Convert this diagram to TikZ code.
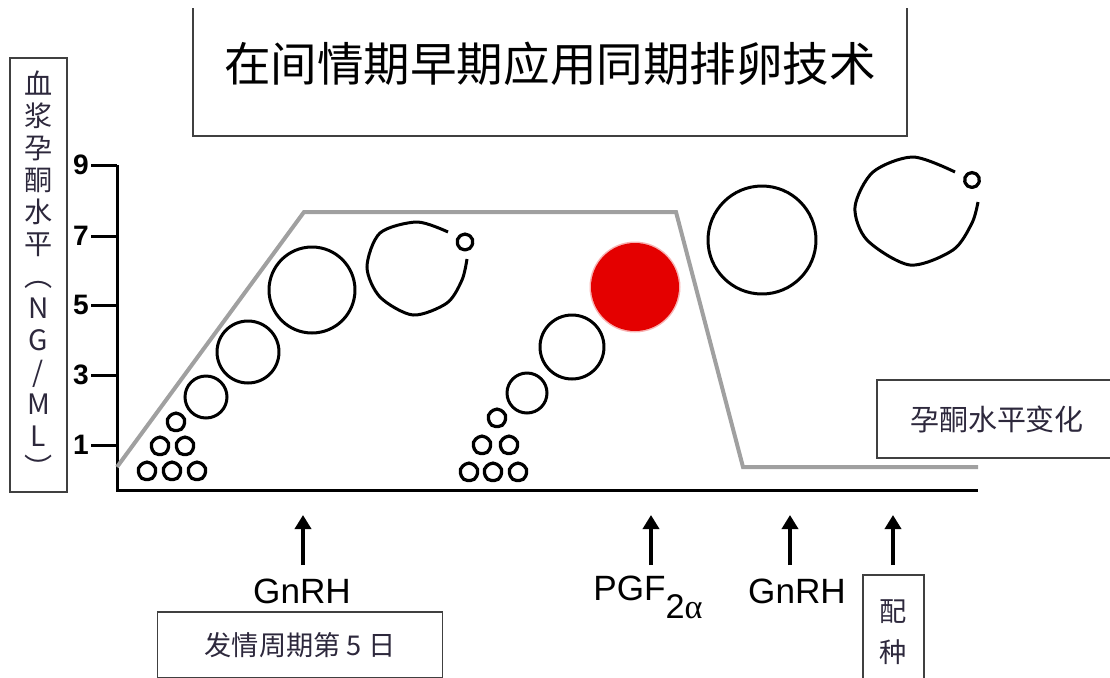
\documentclass[tikz,border=0pt]{standalone}
\usepackage{fontspec}
\usepackage{amsmath}
\setmainfont{Liberation Sans}
\newfontfamily\cjk{Noto Sans CJK SC}
\newfontfamily\grk{Liberation Serif}
\usetikzlibrary{arrows.meta,shapes.geometric}

\definecolor{lvl}{RGB}{160,160,160}
\definecolor{ink}{RGB}{45,40,60}
\definecolor{cl}{RGB}{228,0,0}

\tikzset{
  box/.style={draw=black!75,line width=0.7pt,inner sep=0pt},
  foll/.style={draw,circle,line width=0.06cm,inner sep=0pt},
  egg/.style={draw,regular polygon,regular polygon sides=5,rounded corners=2.6pt,line width=0.065cm,inner sep=0pt,minimum size=0.42cm},
  pulse/.style={-{Triangle[length=0.28cm,width=0.32cm]},line width=0.075cm},
  hormone/.style={anchor=base,inner sep=0pt,font=\fontsize{20}{24}\selectfont},
}

\begin{document}
\begin{tikzpicture}[x=0.02cm,y=-0.02cm]
        \useasboundingbox (0,0) rectangle (1110,677);
        \clip (0,0) rectangle (1110,677);

        \begin{scope}
            \clip (0,8) rectangle (1110,677);
            \node[box,minimum width=14.28cm,minimum height=2.88cm,font=\cjk\fontsize{26.5}{30}\selectfont] (title) at (550,64) {在间情期早期应用同期排卵技术};
        \end{scope}

        \node[box,minimum width=1.14cm,minimum height=8.68cm,align=center,text=ink,font=\cjk\fontsize{16}{18.2}\selectfont] (ylab) at (38.5,275) {血\\浆\\孕\\酮\\水\\平\\︵\\N\\G\\/\\M\\L\\︶};

        % axes and ticks
        \draw[line width=0.06cm](117,165)--(117,490)--(978,490);
        \foreach \v/\y in {9/165,7/236,5/305,3/375,1/445}{
            \draw[line width=0.06cm](91,\y)--(117,\y);
            \node[anchor=east,inner sep=0pt,font=\bfseries\fontsize{16}{18}\selectfont] (t\v) at (89,\y) {\v};
        }

        % progesterone level
        \draw[lvl,line width=0.08cm](117,467)--(304,212)--(676,212)--(743,467)--(978,467);

        % first wave
        \foreach \x/\y [count=\i] in {147/471,172/471,197/471,160/446,185/446,176/422}
            \node[egg] (p\i) at (\x,\y) {};
        \node[foll,minimum size=0.84cm] (a1) at (206,397) {};
        \node[foll,minimum size=1.24cm] (a2) at (248,352) {};
        \node[foll,minimum size=1.72cm] (a3) at (312,290) {};
        \draw[line width=0.06cm]plot[smooth] coordinates {(448,232) (417,222) (380,233) (367,267) (380,297) (413,315) (447,303) (462,280) (467,259)};
        \node[egg,minimum size=0.38cm] (o1) at (465,242) {};

        % second wave
        \foreach \x/\y [count=\i] in {469/472,493/472,518/472,482/445,509/445,497/418}
            \node[egg] (q\i) at (\x,\y) {};
        \node[foll,minimum size=0.8cm] (b1) at (527,393) {};
        \node[foll,minimum size=1.28cm] (b2) at (572,347) {};
        \fill[cl,opacity=0.3](635,287) circle[radius=45.5];
        \node[circle,fill=cl,inner sep=0pt,minimum size=1.76cm] (cl) at (635,287) {};

        \node[foll,minimum size=2.16cm] (c1) at (762,240) {};
        \draw[line width=0.06cm]plot[smooth] coordinates {(955,172) (913,157) (873,172) (855,207) (867,240) (910,265) (953,250) (972,223) (978,202)};
        \node[egg,minimum size=0.36cm] (o2) at (972,180) {};

        \node[box,minimum width=4.8cm,minimum height=1.56cm,text=ink,font=\cjk\fontsize{16.5}{18}\selectfont] (leg) at (997,419) {孕酮水平变化};

        % injections
        \foreach \x/\n in {303/g1,651/pg,790/g2,893/mt}{
            \coordinate (\n-foot) at (\x,565);
            \coordinate (\n-tip) at (\x,515);
            \draw[pulse](\n-foot)--(\n-tip);
        }
        \node[hormone] (gn1) at (302,603) {GnRH};
        \node[hormone,anchor=base west] (pgf) at (593,600) {PGF\raisebox{-0.36cm}{\fontsize{19.5}{22}\selectfont 2{\grk α}}};
        \node[hormone] (gn2) at (797,603) {GnRH};

        \node[box,minimum width=5.7cm,minimum height=1.32cm,text=ink,font=\cjk\fontsize{15.5}{18}\selectfont] (day) at (300,645) {发情周期第 5 日};
        \node[box,minimum width=1.22cm,minimum height=2.28cm,align=center,text=ink,font=\cjk\fontsize{15.5}{23}\selectfont] (mate) at (893.5,632) {配\\种};
    \end{tikzpicture}
\end{document}
